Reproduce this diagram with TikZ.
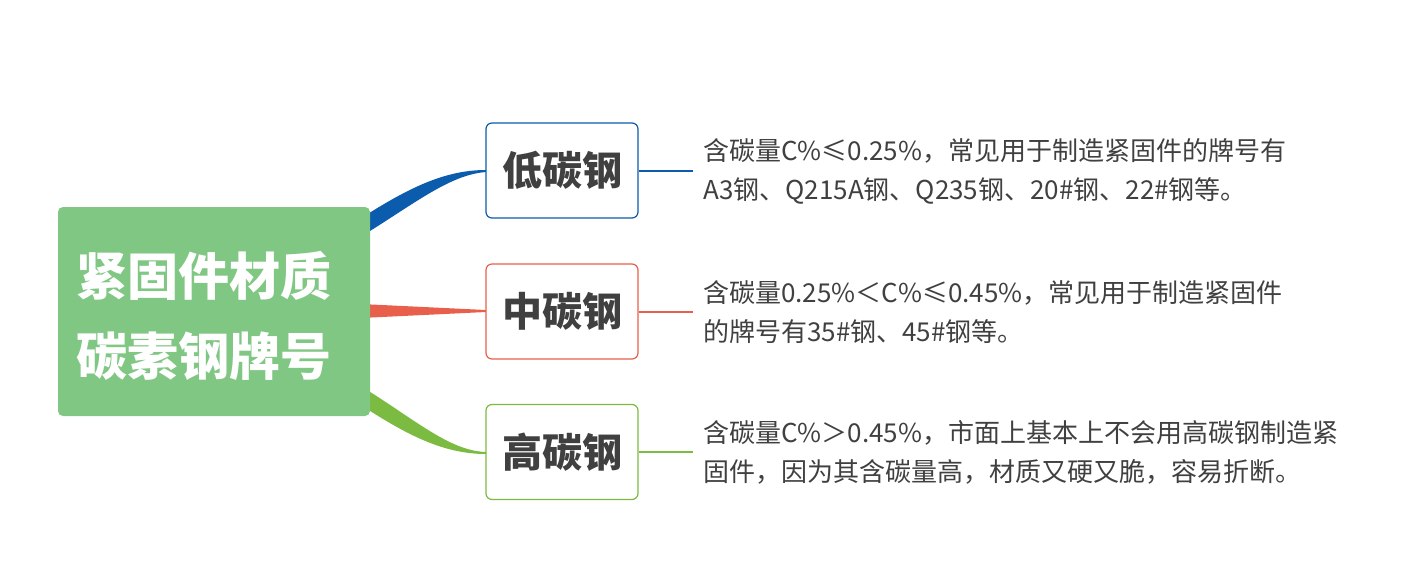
\documentclass[tikz,border=0pt]{standalone}
\usepackage{fontspec}
\setmainfont{Noto Sans CJK SC}
\usetikzlibrary{positioning}
\definecolor{rootgreen}{HTML}{81C784}
\definecolor{lowblue}{HTML}{0B5CAD}
\definecolor{midred}{HTML}{E8604C}
\definecolor{highgreen}{HTML}{7CBB42}
\definecolor{txtgray}{HTML}{404040}
\tikzset{
  rootbox/.style={fill=rootgreen, rounded corners=5pt, minimum width=312pt, minimum height=209pt},
  roottext/.style={text=white, align=center, inner sep=0pt, font=\fontsize{51}{80}\selectfont\bfseries},
  kindbox/.style={draw=#1, fill=white, line width=1.2pt, rounded corners=6pt, minimum width=152pt,
    minimum height=95pt, text=txtgray, font=\fontsize{40}{48}\selectfont\bfseries},
  notetext/.style={anchor=west, inner sep=0pt, align=left, text=txtgray,
    font=\fontsize{26}{39}\selectfont},
  twig/.style={draw=#1, line width=2pt}
}

\begin{document}
\begin{tikzpicture}[x=1pt, y=-1pt]
			\useasboundingbox (0,0) rectangle (1428,563);
			% branches (behind the root)
			\fill [lowblue] (340,232) .. controls (400,192) and (440,170) .. (486,170)
				-- (486,172) .. controls (445,175) and (405,212) .. (340,249) -- cycle;
			\fill [midred] (340,303) -- (486,310) -- (486,312) -- (340,319) -- cycle;
			\fill [highgreen] (340,374) .. controls (405,410) and (445,451) .. (486,452)
				-- (486,454) .. controls (440,454) and (400,432) .. (340,391) -- cycle;
			\node [rootbox] (root) at (214,311.5) {};
			\node [roottext] (roottitle) at ([xshift=-10pt, yshift=-4pt]root.center) {紧固件材质\\碳素钢牌号};
			\node [kindbox=lowblue] (low) at (562,170.5) {低碳钢};
			\node [kindbox=midred] (mid) at (562,311.5) {中碳钢};
			\node [kindbox=highgreen] (high) at (562,452) {高碳钢};
			\coordinate (lowend) at (693,170.5);
			\coordinate (midend) at (693,311.5);
			\coordinate (highend) at (693,452);
			\draw [twig=lowblue] (low.east) -- (lowend);
			\draw [twig=midred] (mid.east) -- (midend);
			\draw [twig=highgreen] (high.east) -- (highend);
			\node [notetext] (lownote) at (703,171) {含碳量C\%≤0.25\%，常见用于制造紧固件的牌号有\\A3钢、Q215A钢、Q235钢、20\#钢、22\#钢等。};
			\node [notetext] (midnote) at (703,312) {含碳量0.25\%＜C\%≤0.45\%，常见用于制造紧固件\\的牌号有35\#钢、45\#钢等。};
			\node [notetext] (highnote) at (703,452.5) {含碳量C\%＞0.45\%，市面上基本上不会用高碳钢制造紧\\固件，因为其含碳量高，材质又硬又脆，容易折断。};
		\end{tikzpicture}
\end{document}
